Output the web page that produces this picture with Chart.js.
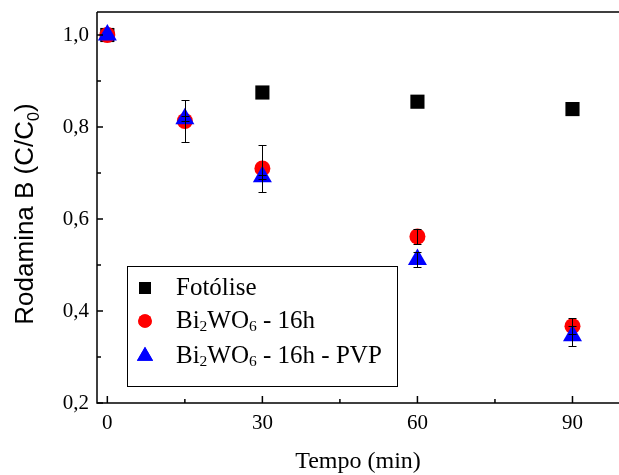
<!DOCTYPE html>
<html>
<head>
<meta charset="utf-8">
<script src="https://cdn.jsdelivr.net/npm/chart.js@4"></script>
<style>
  html, body { margin: 0; padding: 0; background: #fff; }
  #wrap { width: 619px; height: 475px; }
</style>
</head>
<body>
<div id="wrap"><canvas id="grafico" width="619" height="475"></canvas></div>
<script>
const tempos = [0, 30, 60, 90];
const temposCat = [0, 15, 30, 60, 90];

const fotolise = [1.0, 0.875, 0.855, 0.839];
const bi16h = [1.0, 0.813, 0.71, 0.562, 0.367];
const bi16hErro = [0, 0.046, 0.051, 0.017, 0.017];
const bi16hPvp = [1.0, 0.818, 0.692, 0.512, 0.346];
const bi16hPvpErro = [0, 0.005, 0.004, 0.017, 0.022];

const yTicks = [0.2, 0.4, 0.6, 0.8, 1.0];
const yMinor = [0.3, 0.5, 0.7, 0.9];
const xTicks = [0, 30, 60, 90];
const xMinor = [15, 45, 75];

const serif = "'Liberation Serif', 'Times New Roman', serif";
const sans = "'Liberation Sans', Arial, sans-serif";

function pontos(xs, ys) {
  return xs.map((x, i) => ({ x, y: ys[i] }));
}

const datasets = [
  {
    label: "Fotólise",
    data: pontos(tempos, fotolise),
    pointStyle: "rect",
    pointRadius: 10,
    backgroundColor: "#000",
    borderWidth: 0,
    order: 3,
  },
  {
    label: "Bi2WO6 - 16h",
    data: pontos(temposCat, bi16h),
    erros: bi16hErro,
    pointStyle: "circle",
    pointRadius: 8,
    backgroundColor: "#ff0000",
    borderWidth: 0,
    order: 2,
  },
  {
    label: "Bi2WO6 - 16h - PVP",
    data: pontos(temposCat, bi16hPvp),
    erros: bi16hPvpErro,
    pointStyle: "triangle",
    pointRadius: 11,
    backgroundColor: "#0000ff",
    borderWidth: 0,
    order: 1,
  },
];

// eixos, ticks internos e barras de erro
const molduraPlugin = {
  id: "moldura",
  afterDatasetsDraw(chart) {
    const { ctx, chartArea: a, scales } = chart;
    const x = scales.x;
    const y = scales.y;

    ctx.save();
    ctx.strokeStyle = "#000";
    ctx.lineWidth = 1;
    chart.data.datasets.forEach((ds) => {
      if (!ds.erros) return;
      ds.data.forEach((p, i) => {
        const e = ds.erros[i];
        if (!e) return;
        const px = Math.round(x.getPixelForValue(p.x)) + 0.5;
        const y1 = Math.round(y.getPixelForValue(p.y + e)) + 0.5;
        const y2 = Math.round(y.getPixelForValue(p.y - e)) + 0.5;
        ctx.beginPath();
        ctx.moveTo(px, y1);
        ctx.lineTo(px, y2);
        ctx.moveTo(px - 4, y1);
        ctx.lineTo(px + 4, y1);
        ctx.moveTo(px - 4, y2);
        ctx.lineTo(px + 4, y2);
        ctx.stroke();
      });
    });

    ctx.lineWidth = 1.5;
    ctx.beginPath();
    ctx.moveTo(a.left, a.top);
    ctx.lineTo(a.right, a.top);
    ctx.moveTo(a.left, a.top);
    ctx.lineTo(a.left, a.bottom);
    ctx.lineTo(a.right, a.bottom);
    ctx.stroke();

    ctx.beginPath();
    xTicks.forEach((v) => {
      const px = x.getPixelForValue(v);
      ctx.moveTo(px, a.bottom);
      ctx.lineTo(px, a.bottom - 7);
    });
    xMinor.forEach((v) => {
      const px = x.getPixelForValue(v);
      ctx.moveTo(px, a.bottom);
      ctx.lineTo(px, a.bottom - 4);
    });
    yTicks.forEach((v) => {
      const py = y.getPixelForValue(v);
      ctx.moveTo(a.left, py);
      ctx.lineTo(a.left + 6, py);
    });
    yMinor.forEach((v) => {
      const py = y.getPixelForValue(v);
      ctx.moveTo(a.left, py);
      ctx.lineTo(a.left + 4, py);
    });
    ctx.stroke();
    ctx.restore();
  },
};

// desenha texto com subscritos: partes [texto, sub?]
function textoComSub(ctx, partes, x, y, tam, fonte) {
  let cx = x;
  partes.forEach(([t, sub]) => {
    const s = sub ? tam * 0.62 : tam;
    ctx.font = `${s}px ${fonte}`;
    ctx.fillText(t, cx, sub ? y + tam * 0.22 : y);
    cx += ctx.measureText(t).width;
  });
  return cx - x;
}

function larguraComSub(ctx, partes, tam, fonte) {
  let w = 0;
  partes.forEach(([t, sub]) => {
    ctx.font = `${sub ? tam * 0.62 : tam}px ${fonte}`;
    w += ctx.measureText(t).width;
  });
  return w;
}

const legendaPlugin = {
  id: "legenda",
  afterDraw(chart) {
    const { ctx, chartArea: a } = chart;
    ctx.save();

    // titulo eixo x
    ctx.fillStyle = "#000";
    ctx.font = `24px ${serif}`;
    ctx.textAlign = "center";
    ctx.textBaseline = "alphabetic";
    ctx.fillText("Tempo (min)", (a.left + a.right) / 2, 468);

    // titulo eixo y
    const tituloY = [["Rodamina B (C/C"], ["0", true], [")"]];
    ctx.textAlign = "left";
    ctx.translate(33, 214);
    ctx.rotate(-Math.PI / 2);
    const wy = larguraComSub(ctx, tituloY, 26, sans);
    textoComSub(ctx, tituloY, -wy / 2, 0, 26, sans);
    ctx.setTransform(1, 0, 0, 1, 0, 0);

    // legenda
    ctx.strokeStyle = "#000";
    ctx.lineWidth = 1;
    ctx.strokeRect(127.5, 266.5, 270, 120);

    const linhas = [
      [["Fotólise"]],
      [["Bi"], ["2", true], ["WO"], ["6", true], [" - 16h"]],
      [["Bi"], ["2", true], ["WO"], ["6", true], [" - 16h - PVP"]],
    ];
    const ys = [288, 321, 356];
    chart.data.datasets.forEach((ds, i) => {
      ctx.fillStyle = ds.backgroundColor;
      Chart.helpers.drawPoint(
        ctx,
        {
          pointStyle: ds.pointStyle,
          radius: ds.pointRadius * 0.85,
          rotation: 0,
          borderWidth: 0,
        },
        145,
        ys[i]
      );
      ctx.fill();
      ctx.fillStyle = "#000";
      ctx.textBaseline = "middle";
      textoComSub(ctx, linhas[i], 176, ys[i], 25, serif);
    });
    ctx.restore();
  },
};

function semPadding(s) {
  s.paddingLeft = 0;
  s.paddingRight = 0;
  s.paddingTop = 0;
  s.paddingBottom = 0;
}

new Chart(document.getElementById("grafico"), {
  type: "scatter",
  data: { datasets },
  options: {
    responsive: false,
    animation: false,
    layout: {
      autoPadding: false,
      padding: { top: 12, right: 0, left: 0, bottom: 0 },
    },
    plugins: {
      legend: { display: false },
      tooltip: { enabled: false },
    },
    scales: {
      x: {
        type: "linear",
        min: -2,
        max: 99,
        border: { display: false },
        grid: { display: false, drawTicks: false },
        afterFit: (s) => { s.height = 72; semPadding(s); },
        afterBuildTicks: (s) => { s.ticks = xTicks.map((v) => ({ value: v })); },
        ticks: {
          padding: 8,
          color: "#000",
          font: { family: serif, size: 21 },
        },
      },
      y: {
        type: "linear",
        min: 0.2,
        max: 1.05,
        border: { display: false },
        grid: { display: false, drawTicks: false },
        afterFit: (s) => { s.width = 97; semPadding(s); },
        afterBuildTicks: (s) => { s.ticks = yTicks.map((v) => ({ value: v })); },
        ticks: {
          padding: 8,
          color: "#000",
          font: { family: serif, size: 21 },
          callback: (v) => v.toFixed(1).replace(".", ","),
        },
      },
    },
  },
  plugins: [molduraPlugin, legendaPlugin],
});
</script>
</body>
</html>
